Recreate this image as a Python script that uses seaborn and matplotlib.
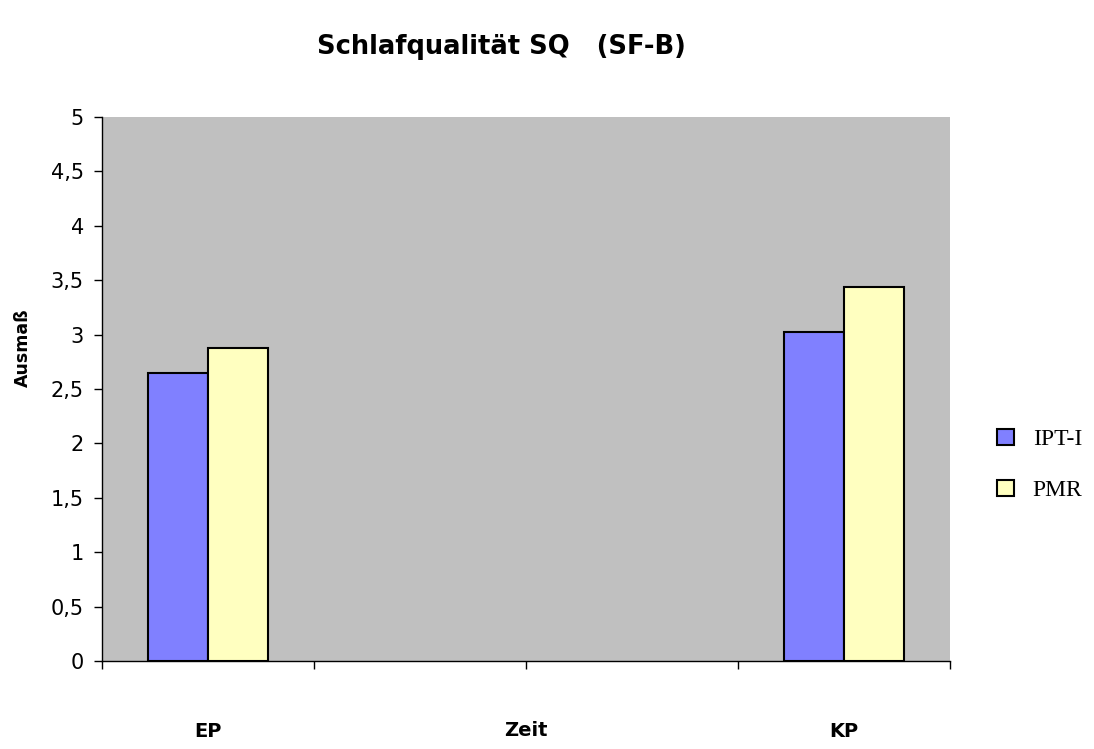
import matplotlib
matplotlib.use("Agg")
import matplotlib.pyplot as plt
import seaborn as sns
import pandas as pd
import numpy as np
from matplotlib.ticker import FuncFormatter, FixedLocator
from matplotlib.patches import Patch

categories = ["EP", "_a", "_b", "KP"]
tick_labels = ["EP", "", "", "KP"]
series = ["IPT-I", "PMR"]
ipt_values = [2.65, np.nan, np.nan, 3.02]
pmr_values = [2.88, np.nan, np.nan, 3.44]
colors = {"IPT-I": "#8080FF", "PMR": "#FFFFC0"}

df = pd.DataFrame({
    "Zeit": categories * 2,
    "Gruppe": [series[0]] * 4 + [series[1]] * 4,
    "Ausmaß": ipt_values + pmr_values,
})

sns.set_theme(style="white")
plt.rcParams["font.family"] = ["DejaVu Sans"]
plt.rcParams["text.color"] = "black"
plt.rcParams["axes.labelcolor"] = "black"
plt.rcParams["xtick.color"] = "black"
plt.rcParams["ytick.color"] = "black"

fig = plt.figure(figsize=(10.94, 7.49), dpi=100)
ax = fig.add_axes([102/1094, 1-661/749, (950-102)/1094, (661-117)/749])
ax.set_facecolor("#C0C0C0")

sns.barplot(data=df, x="Zeit", y="Ausmaß", hue="Gruppe", order=categories,
            hue_order=series, palette=colors, width=0.566, gap=0,
            edgecolor="black", linewidth=1.5, saturation=1, ax=ax, legend=False)

ax.set_xlim(-0.5, 3.5)
ax.set_ylim(0, 5)
ax.set_yticks(np.arange(0, 5.01, 0.5))
ax.yaxis.set_major_formatter(FuncFormatter(lambda v, p: ("%g" % v).replace(".", ",")))
ax.set_xticks(range(4))
ax.set_xticklabels(tick_labels, fontweight="bold", fontsize=14)
ax.xaxis.set_minor_locator(FixedLocator([-0.5, 0.5, 1.5, 2.5, 3.5]))
ax.tick_params(axis="x", which="major", length=0, pad=44)
ax.tick_params(axis="x", which="minor", length=6, width=1, color="black", direction="out", bottom=True)
ax.tick_params(axis="y", which="major", length=6, width=1, color="black", direction="out", left=True, labelsize=15, pad=7)

for s in ["top", "right"]:
    ax.spines[s].set_visible(False)
for s in ["left", "bottom"]:
    ax.spines[s].set_color("black")
    ax.spines[s].set_linewidth(1)

ax.set_xlabel("Zeit", fontweight="bold", fontsize=14, va="center")
ax.xaxis.set_label_coords(0.5, (661-731)/544)
ax.set_ylabel("Ausmaß", fontweight="bold", fontsize=12.5, va="center")
ax.yaxis.set_label_coords((23-102)/848, (661-348)/544)

fig.text(501/1094, 1-47/749, "Schlafqualität SQ   (SF-B)", ha="center", va="center",
         fontsize=18.5, fontweight="bold")

handles = [Patch(facecolor=colors[s], edgecolor="black", linewidth=1.5) for s in series]
leg = fig.legend(handles, series, loc="center left", bbox_to_anchor=(976/1094, 1-465/749),
                 frameon=False, prop={"family": "Liberation Serif", "size": 17},
                 handlelength=0.7, handleheight=0.7, labelspacing=1.25, handletextpad=0.8)

fig.savefig("out.png", dpi=100, facecolor="white")
